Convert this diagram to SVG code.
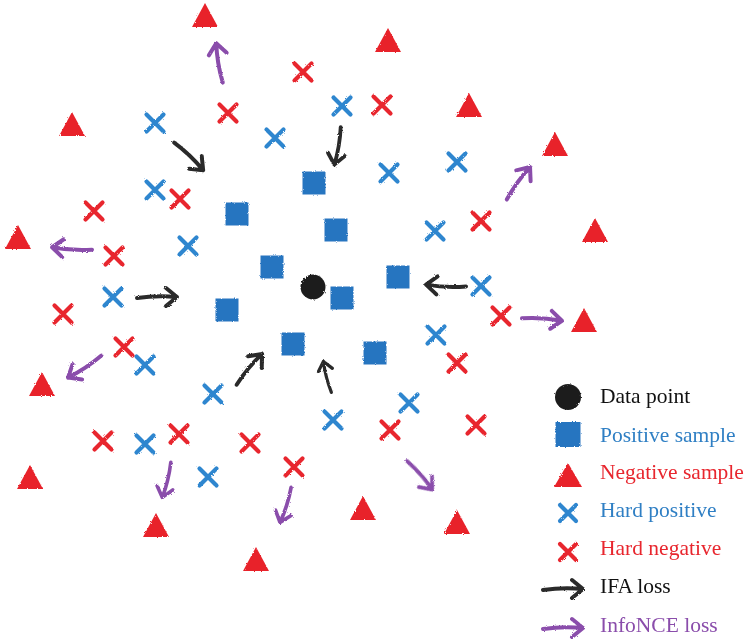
<svg xmlns="http://www.w3.org/2000/svg" xmlns:xlink="http://www.w3.org/1999/xlink" width="749" height="644" viewBox="0 0 749 644">
<style>
.tri{fill:#e8222a}
.sq{fill:#2874c0}
.dot{fill:#1e1e1e}
.xp{stroke:#2f86cf;stroke-width:4.2;stroke-linecap:round;fill:none}
.xn{stroke:#e8262e;stroke-width:4.2;stroke-linecap:round;fill:none}
.ifa{stroke:#2a2a2a;stroke-width:4;stroke-linecap:round;stroke-linejoin:round;fill:none}
.nce{stroke:#8a4dab;stroke-width:4;stroke-linecap:round;stroke-linejoin:round;fill:none}
.lbl{font-family:"Liberation Serif","Times New Roman",serif;font-size:21.5px}
</style>
<defs>
<filter id="crayon" x="-20%" y="-20%" width="140%" height="140%">
<feTurbulence type="fractalNoise" baseFrequency="0.9" numOctaves="2" seed="3" result="n"/>
<feDisplacementMap in="SourceGraphic" in2="n" scale="2.5"/>
</filter>
<polygon id="T" points="0,-13 13,11 -13,11"/>
<rect id="S" x="-11.5" y="-11.5" width="23" height="23"/>
<path id="X" d="M-8.5,-8.5 L8.5,8.5 M8.5,-8.5 L-8.5,8.5"/>
<path id="A" d="M-20,1 Q0,-2 20,0 M9,-9 L20,0 L9,9"/>
</defs>
<rect width="749" height="644" fill="#fff"/>
<g filter="url(#crayon)">
<g id="negative-samples" class="tri">
<g id="n1"><use xlink:href="#T" x="205" y="16"/></g>
<g id="n2"><use xlink:href="#T" x="388" y="41"/></g>
<g id="n3"><use xlink:href="#T" x="72" y="125"/></g>
<g id="n4"><use xlink:href="#T" x="469" y="106"/></g>
<g id="n5"><use xlink:href="#T" x="555" y="145"/></g>
<g id="n6"><use xlink:href="#T" x="18" y="238"/></g>
<g id="n7"><use xlink:href="#T" x="595" y="231"/></g>
<g id="n8"><use xlink:href="#T" x="584" y="321"/></g>
<g id="n9"><use xlink:href="#T" x="42" y="385"/></g>
<g id="n10"><use xlink:href="#T" x="30" y="478"/></g>
<g id="n11"><use xlink:href="#T" x="156" y="526"/></g>
<g id="n12"><use xlink:href="#T" x="363" y="509"/></g>
<g id="n13"><use xlink:href="#T" x="457" y="523"/></g>
<g id="n14"><use xlink:href="#T" x="256" y="560"/></g>
</g>
<g id="positive-samples" class="sq">
<g id="p1"><use xlink:href="#S" x="314" y="183"/></g>
<g id="p2"><use xlink:href="#S" x="237" y="214"/></g>
<g id="p3"><use xlink:href="#S" x="336" y="230"/></g>
<g id="p4"><use xlink:href="#S" x="272" y="267"/></g>
<g id="p5"><use xlink:href="#S" x="398" y="277"/></g>
<g id="p6"><use xlink:href="#S" x="227" y="310"/></g>
<g id="p7"><use xlink:href="#S" x="342" y="298"/></g>
<g id="p8"><use xlink:href="#S" x="293" y="344"/></g>
<g id="p9"><use xlink:href="#S" x="375" y="353"/></g>
</g>
<g id="data-point"><circle class="dot" cx="313" cy="287" r="12.5"/></g>
<g id="hard-positives" class="xp">
<g id="hp1"><use xlink:href="#X" x="155" y="123"/></g>
<g id="hp2"><use xlink:href="#X" x="342" y="106"/></g>
<g id="hp3"><use xlink:href="#X" x="275" y="138"/></g>
<g id="hp4"><use xlink:href="#X" x="389" y="173"/></g>
<g id="hp5"><use xlink:href="#X" x="457" y="162"/></g>
<g id="hp6"><use xlink:href="#X" x="155" y="190"/></g>
<g id="hp7"><use xlink:href="#X" x="188" y="246"/></g>
<g id="hp8"><use xlink:href="#X" x="435" y="231"/></g>
<g id="hp9"><use xlink:href="#X" x="113" y="297"/></g>
<g id="hp10"><use xlink:href="#X" x="481" y="286"/></g>
<g id="hp11"><use xlink:href="#X" x="436" y="335"/></g>
<g id="hp12"><use xlink:href="#X" x="145" y="365"/></g>
<g id="hp13"><use xlink:href="#X" x="213" y="394"/></g>
<g id="hp14"><use xlink:href="#X" x="409" y="403"/></g>
<g id="hp15"><use xlink:href="#X" x="333" y="420"/></g>
<g id="hp16"><use xlink:href="#X" x="145" y="444"/></g>
<g id="hp17"><use xlink:href="#X" x="208" y="477"/></g>
</g>
<g id="hard-negatives" class="xn">
<g id="hn1"><use xlink:href="#X" x="303" y="72"/></g>
<g id="hn2"><use xlink:href="#X" x="228" y="113"/></g>
<g id="hn3"><use xlink:href="#X" x="382" y="105"/></g>
<g id="hn4"><use xlink:href="#X" x="180" y="199"/></g>
<g id="hn5"><use xlink:href="#X" x="94" y="211"/></g>
<g id="hn6"><use xlink:href="#X" x="481" y="221"/></g>
<g id="hn7"><use xlink:href="#X" x="114" y="256"/></g>
<g id="hn8"><use xlink:href="#X" x="63" y="314"/></g>
<g id="hn9"><use xlink:href="#X" x="501" y="316"/></g>
<g id="hn10"><use xlink:href="#X" x="124" y="347"/></g>
<g id="hn11"><use xlink:href="#X" x="457" y="363"/></g>
<g id="hn12"><use xlink:href="#X" x="103" y="441"/></g>
<g id="hn13"><use xlink:href="#X" x="179" y="434"/></g>
<g id="hn14"><use xlink:href="#X" x="250" y="443"/></g>
<g id="hn15"><use xlink:href="#X" x="390" y="430"/></g>
<g id="hn16"><use xlink:href="#X" x="476" y="425"/></g>
<g id="hn17"><use xlink:href="#X" x="294" y="467"/></g>
</g>
<g id="connectors">
<g class="ifa">
<use xlink:href="#A" transform="translate(189,156) rotate(45)"/>
<use xlink:href="#A" transform="translate(338,146) rotate(101) scale(0.95)"/>
<use xlink:href="#A" transform="translate(157,297)"/>
<use xlink:href="#A" transform="translate(446,286) rotate(184)"/>
<use xlink:href="#A" transform="translate(249,369) rotate(-49)"/>
<use xlink:href="#A" transform="translate(327,377) rotate(-103) scale(0.8)"/>
</g>
<g class="nce">
<use xlink:href="#A" transform="translate(219,63) rotate(-98)"/>
<use xlink:href="#A" transform="translate(518,183) rotate(-53)"/>
<use xlink:href="#A" transform="translate(72,249) rotate(185)"/>
<use xlink:href="#A" transform="translate(542,319) rotate(5)"/>
<use xlink:href="#A" transform="translate(85,367) rotate(148)"/>
<use xlink:href="#A" transform="translate(167,480) rotate(105) scale(0.9)"/>
<use xlink:href="#A" transform="translate(286,505) rotate(109) scale(0.92)"/>
<use xlink:href="#A" transform="translate(420,475) rotate(50) scale(0.95)"/>
</g>
</g>
<g id="legend">
<circle class="dot" cx="568" cy="397" r="13"/>
<rect class="sq" x="555.5" y="422" width="25" height="25"/>
<polygon class="tri" points="568,463 582,487 554,487"/>
<path class="xp" d="M560,505 L576,521 M576,505 L560,521"/>
<path class="xn" d="M560,544 L576,560 M576,544 L560,560"/>
<use class="ifa" xlink:href="#A" transform="translate(563,589)"/>
<use class="nce" xlink:href="#A" transform="translate(563,628)"/>
</g>
</g>
<g id="legend-text" class="lbl">
<text x="600" y="403" fill="#111">Data point</text>
<text x="600" y="442" fill="#2f7fc4">Positive sample</text>
<text x="600" y="479" fill="#e8262e">Negative sample</text>
<text x="600" y="517" fill="#2f7fc4">Hard positive</text>
<text x="600" y="555" fill="#e8262e">Hard negative</text>
<text x="600" y="593" fill="#111">IFA loss</text>
<text x="600" y="632" fill="#8a4dab">InfoNCE loss</text>
</g>
</svg>
